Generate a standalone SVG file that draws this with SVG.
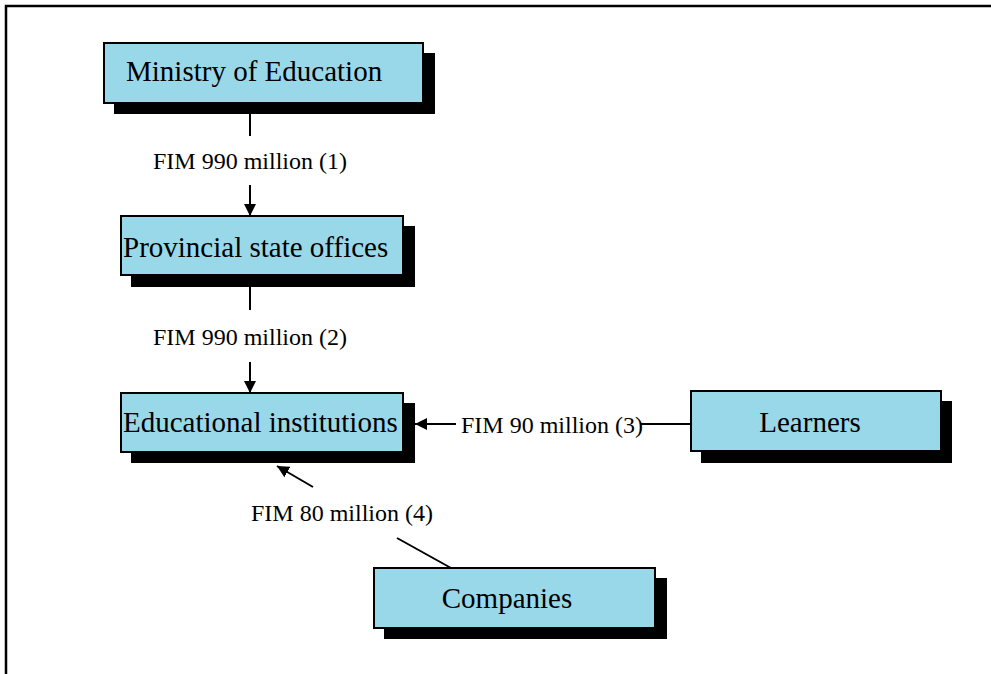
<svg xmlns="http://www.w3.org/2000/svg" width="991" height="674" viewBox="0 0 991 674">
<style>
.shadow{fill:#000}
.box{fill:#99d8e9;stroke:#000;stroke-width:2}
.nt{font-family:"Liberation Serif","Times New Roman",serif;font-size:29px;fill:#000}
.lb{font-family:"Liberation Serif","Times New Roman",serif;font-size:24px;fill:#000}
.ln{stroke:#000;stroke-width:2;fill:none}
</style>
<defs>
<marker id="ah" viewBox="0 0 12 12" refX="12" refY="6" markerWidth="12" markerHeight="12" markerUnits="userSpaceOnUse" orient="auto">
<path d="M0,0 L12,6 L0,12 Z" fill="#000"/>
</marker>
</defs>
<rect x="6" y="6" width="1000" height="700" fill="#fff" stroke="#000" stroke-width="2.5"/>
<g id="ministry">
<rect class="shadow" x="114" y="53" width="321" height="61"/>
<rect class="box" x="104" y="43" width="319" height="60"/>
<text class="nt" x="126" y="81">Ministry of Education</text>
</g>
<g id="provincial">
<rect class="shadow" x="131" y="226" width="284" height="61"/>
<rect class="box" x="121" y="216" width="282" height="59"/>
<text class="nt" x="123" y="257">Provincial state offices</text>
</g>
<g id="educational">
<rect class="shadow" x="131" y="403" width="284" height="60"/>
<rect class="box" x="121" y="393" width="282" height="59"/>
<text class="nt" x="123" y="432">Educational institutions</text>
</g>
<g id="learners">
<rect class="shadow" x="701" y="401" width="251" height="62"/>
<rect class="box" x="691" y="391" width="250" height="60"/>
<text class="nt" x="810" y="432" text-anchor="middle">Learners</text>
</g>
<g id="companies">
<rect class="shadow" x="384" y="578" width="283" height="61"/>
<rect class="box" x="374" y="568" width="281" height="60"/>
<text class="nt" x="507" y="608" text-anchor="middle">Companies</text>
</g>
<g id="connectors">
<line class="ln" x1="250" y1="114" x2="250" y2="136"/>
<text class="lb" x="250" y="169" text-anchor="middle">FIM 990 million (1)</text>
<line class="ln" x1="250" y1="185" x2="250" y2="216" marker-end="url(#ah)"/>
<line class="ln" x1="250" y1="287" x2="250" y2="310"/>
<text class="lb" x="250" y="345" text-anchor="middle">FIM 990 million (2)</text>
<line class="ln" x1="250" y1="362" x2="250" y2="393" marker-end="url(#ah)"/>
<line class="ln" x1="691" y1="424" x2="641" y2="424"/>
<text class="lb" x="461" y="433">FIM 90 million (3)</text>
<line class="ln" x1="456" y1="424" x2="415" y2="424" marker-end="url(#ah)"/>
<line class="ln" x1="451" y1="568" x2="397" y2="538"/>
<text class="lb" x="251" y="521">FIM 80 million (4)</text>
<line class="ln" x1="313" y1="487" x2="277" y2="466" marker-end="url(#ah)"/>
</g>
</svg>
